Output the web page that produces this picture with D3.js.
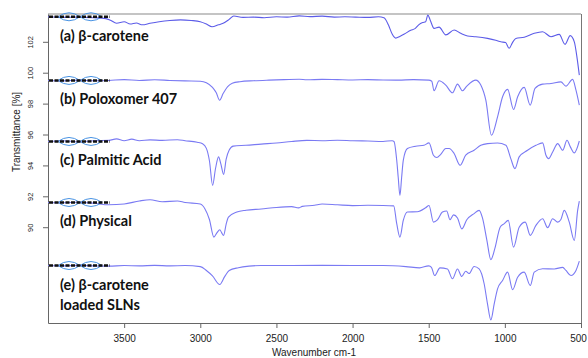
<!DOCTYPE html>
<html>
<head>
<meta charset="utf-8">
<title>FTIR spectra</title>
<script src="https://cdn.jsdelivr.net/npm/d3@7"></script>
<style>
	body { margin: 0; background: #fff; }
	.axis text { font-family: "Liberation Sans", Arial, sans-serif; fill: #222; }
	.axis path, .axis line { stroke: #666; }
	.lbl { font-family: Lato, "Open Sans", sans-serif; font-weight: bold; font-size: 14.5px; fill: #111; }
	.spec { fill: none; }
</style>
</head>
<body>
<div id="chart"></div>
<script>
	// ticks
	var xTicks = [3500, 3000, 2500, 2000, 1500, 1000, 500];
	var yTicks = [90, 92, 94, 96, 98, 100, 102];

	// [wavenumber, transmittance]
	var specA = [[4000,103.62],[3900,103.58],[3800,103.6],[3700,103.56],[3620,103.5],[3590,103.4],[3550,103.2],[3500,103.3],[3460,103.15],[3420,103.22],[3380,103.1],[3330,103.2],[3270,103.3],[3200,103.38],[3130,103.42],[3060,103.38],[3000,103.3],[2960,103.15],[2923,102.97],[2880,103.1],[2850,103.2],[2810,103.45],[2780,103.67],[2720,103.58],[2650,103.6],[2580,103.56],[2500,103.62],[2430,103.6],[2350,103.68],[2280,103.63],[2200,103.66],[2120,103.6],[2050,103.62],[1980,103.6],[1900,103.58],[1830,103.62],[1794,103.55],[1765,103.1],[1740,102.5],[1717,102.24],[1690,102.35],[1660,102.5],[1618,102.75],[1590,102.85],[1566,103.1],[1540,103.25],[1520,103.3],[1506,103.74],[1490,103.4],[1465,102.87],[1432,102.95],[1388,102.45],[1333,102.76],[1290,102.55],[1245,102.38],[1191,102.33],[1114,102.22],[1060,102.1],[1026,102.0],[995,101.95],[972,101.58],[950,101.95],[928,102.22],[873,102.3],[807,102.55],[752,102.65],[697,102.33],[643,102.48],[605,101.84],[571,102.4],[544,102.0],[525,100.9],[511,99.84]];
	var specB = [[4000,99.5],[3900,99.47],[3800,99.52],[3700,99.48],[3600,99.5],[3500,99.55],[3400,99.5],[3300,99.54],[3200,99.5],[3100,99.47],[3000,99.45],[2960,99.35],[2920,99.05],[2895,98.7],[2873,98.22],[2850,98.65],[2820,99.1],[2790,99.32],[2740,99.42],[2650,99.48],[2550,99.52],[2450,99.55],[2350,99.58],[2300,99.54],[2200,99.57],[2100,99.55],[2000,99.53],[1900,99.55],[1800,99.53],[1700,99.52],[1600,99.55],[1500,99.52],[1480,99.45],[1465,98.83],[1432,99.48],[1388,99.2],[1344,98.7],[1311,99.26],[1278,98.83],[1250,99.13],[1191,99.52],[1158,99.2],[1125,98.22],[1088,95.95],[1048,97.14],[1015,98.44],[982,98.92],[943,97.62],[916,98.44],[873,99.05],[833,97.9],[802,98.98],[752,99.26],[697,99.3],[632,99.41],[599,99.13],[555,99.57],[533,98.87],[511,97.9]];
	var specC = [[4000,95.55],[3900,95.6],[3800,95.52],[3700,95.6],[3600,95.62],[3550,95.72],[3500,95.6],[3450,95.7],[3400,95.6],[3330,95.65],[3250,95.62],[3150,95.66],[3100,95.6],[3020,95.5],[2985,95.4],[2960,95.1],[2940,94.3],[2919,92.71],[2900,93.8],[2880,94.55],[2865,94.1],[2847,93.42],[2830,94.4],[2810,95.0],[2783,95.25],[2700,95.3],[2600,95.38],[2500,95.45],[2400,95.55],[2300,95.62],[2200,95.6],[2100,95.63],[2000,95.6],[1900,95.58],[1800,95.55],[1740,95.6],[1728,95.55],[1710,94.33],[1700,93.2],[1689,92.06],[1678,93.2],[1667,94.33],[1640,95.09],[1586,95.24],[1531,95.3],[1498,95.46],[1469,94.66],[1447,94.51],[1421,94.72],[1388,95.09],[1366,95.09],[1333,94.77],[1294,94.01],[1257,94.66],[1202,94.98],[1158,95.3],[1114,95.41],[1048,95.45],[993,95.3],[961,94.44],[934,93.79],[906,94.55],[851,94.98],[796,95.3],[752,95.46],[730,94.66],[713,94.44],[686,94.87],[653,95.41],[620,94.98],[592,95.63],[570,95.2],[544,94.81],[511,95.58]];
	var specD = [[4000,91.6],[3900,91.58],[3800,91.62],[3700,91.55],[3600,91.45],[3500,91.5],[3400,91.7],[3330,91.78],[3250,91.65],[3150,91.7],[3100,91.6],[3000,91.5],[2970,91.2],[2940,90.5],[2911,89.36],[2890,89.65],[2872,89.84],[2860,89.65],[2847,89.47],[2830,90.2],[2815,90.65],[2760,90.98],[2700,91.1],[2600,91.18],[2500,91.28],[2400,91.33],[2355,91.25],[2330,91.35],[2250,91.42],[2200,91.5],[2100,91.45],[2000,91.4],[1900,91.42],[1800,91.41],[1730,91.38],[1710,90.23],[1689,89.36],[1667,90.44],[1640,90.98],[1575,91.0],[1520,91.26],[1498,91.41],[1469,90.33],[1443,90.48],[1410,90.98],[1382,91.05],[1360,90.48],[1337,90.8],[1311,90.6],[1283,89.89],[1250,90.48],[1202,90.88],[1169,91.09],[1147,90.6],[1118,89.15],[1092,87.9],[1066,88.61],[1031,90.0],[1004,90.23],[978,90.44],[943,88.71],[906,90.0],[866,90.33],[833,89.47],[796,90.12],[752,90.55],[719,89.97],[686,90.55],[653,90.33],[632,90.5],[610,91.09],[577,90.33],[544,89.15],[522,91.09],[511,91.69]];
	var specE = [[4000,87.52],[3900,87.5],[3800,87.53],[3700,87.5],[3600,87.48],[3500,87.52],[3400,87.5],[3300,87.53],[3200,87.5],[3100,87.52],[3000,87.45],[2960,87.2],[2920,86.85],[2872,86.29],[2840,86.8],[2810,87.2],[2750,87.38],[2680,87.48],[2600,87.52],[2400,87.52],[2200,87.53],[2000,87.52],[1800,87.52],[1650,87.45],[1560,87.37],[1500,87.5],[1482,87.4],[1461,86.87],[1426,87.37],[1377,87.3],[1344,86.66],[1311,87.3],[1283,86.81],[1257,87.15],[1235,87.0],[1202,87.46],[1169,87.3],[1136,86.34],[1114,85.04],[1092,84.0],[1070,85.04],[1048,86.01],[1015,86.55],[982,87.09],[949,85.95],[916,86.76],[873,87.09],[833,86.23],[807,87.09],[752,87.31],[675,87.3],[620,87.4],[599,87.2],[566,86.87],[533,87.2],[511,87.8]];

	var labels = [
		["(a) β-carotene"],
		["(b) Poloxomer 407"],
		["(c) Palmitic Acid"],
		["(d) Physical"],
		["(e) β-carotene", "loaded SLNs"]
	];
	var spectra = [specA, specB, specC, specD, specE];

	var width = 588, height = 358;
	var margin = {top: 14, right: 7, bottom: 35, left: 48};

	var svg = d3.select("#chart").append("svg")
		.attr("width", width)
		.attr("height", height);

	var x = d3.scaleLinear().domain([4000, 500]).range([margin.left, width - margin.right]);
	var y = d3.scaleLinear().domain([83.8, 103.8]).range([height - margin.bottom, margin.top]);

	// frame: light top line, thin right line
	svg.append("line")
		.attr("x1", margin.left).attr("x2", width - margin.right)
		.attr("y1", margin.top).attr("y2", margin.top)
		.attr("stroke", "#c4c4c4").attr("stroke-width", 2);
	svg.append("line")
		.attr("x1", width - margin.right + 0.5).attr("x2", width - margin.right + 0.5)
		.attr("y1", margin.top).attr("y2", height - margin.bottom)
		.attr("stroke", "#777").attr("stroke-width", 1);

	var xAxis = svg.append("g")
		.attr("class", "axis")
		.attr("transform", "translate(0," + (height - margin.bottom) + ")")
		.call(d3.axisBottom(x).tickValues(xTicks).tickSize(5).tickSizeOuter(0).tickFormat(d3.format("d")));
	xAxis.selectAll("text").attr("font-size", 10).attr("dy", "1.05em");
	// last label sits on the window edge, nudge it in
	xAxis.selectAll("text").filter(function(d) { return d == 500; }).attr("dx", -3);

	var yAxis = svg.append("g")
		.attr("class", "axis")
		.attr("transform", "translate(" + margin.left + ",0)")
		.call(d3.axisLeft(y).tickValues(yTicks).tickSize(5).tickSizeOuter(0));
	yAxis.selectAll("text")
		.attr("font-size", 7.5)
		.attr("x", 0).attr("y", 0).attr("dy", "0.35em")
		.attr("text-anchor", "middle")
		.attr("transform", "translate(-18,0) rotate(-90)");

	svg.append("text")
		.attr("transform", "translate(20,132) rotate(-90)")
		.attr("text-anchor", "middle")
		.attr("font-family", "Liberation Sans, Arial, sans-serif")
		.attr("font-size", 10)
		.attr("fill", "#222")
		.text("Transmittance [%]");

	svg.append("text")
		.attr("x", 314).attr("y", 356)
		.attr("text-anchor", "middle")
		.attr("font-family", "Liberation Sans, Arial, sans-serif")
		.attr("font-size", 10)
		.attr("fill", "#222")
		.text("Wavenumber cm-1");

	var line = d3.line()
		.x(function(d) { return x(d[0]); })
		.y(function(d) { return y(d[1]); })
		.curve(d3.curveMonotoneX);

	spectra.forEach(function(s, i) {
		svg.append("path")
			.datum(s)
			.attr("class", "spec")
			.attr("stroke", i == 0 ? "#5c5ce8" : "#7a7af3")
			.attr("stroke-width", 1.1)
			.attr("d", line);

		// little bruker logo sitting on the start of each trace
		var y0 = y(s[0][1]);
		var g = svg.append("g");
		g.append("path")
			.attr("d", "M58," + y0 + " Q69," + (y0 - 8) + " 80," + y0 + " Q91," + (y0 + 8) + " 102," + y0)
			.attr("fill", "none").attr("stroke", "#4a94e4").attr("stroke-width", 1);
		g.append("path")
			.attr("d", "M58," + y0 + " Q69," + (y0 + 8) + " 80," + y0 + " Q91," + (y0 - 8) + " 102," + y0)
			.attr("fill", "none").attr("stroke", "#4a94e4").attr("stroke-width", 1);
		g.append("line")
			.attr("x1", 49).attr("x2", 110)
			.attr("y1", y0).attr("y2", y0)
			.attr("stroke", "#111").attr("stroke-width", 2.4)
			.attr("stroke-dasharray", "4,1.5");

		labels[i].forEach(function(t, j) {
			svg.append("text")
				.attr("class", "lbl")
				.attr("x", 60)
				.attr("y", y0 + 24 + j * 20)
				.text(t);
		});
	});
</script>
</body>
</html>
